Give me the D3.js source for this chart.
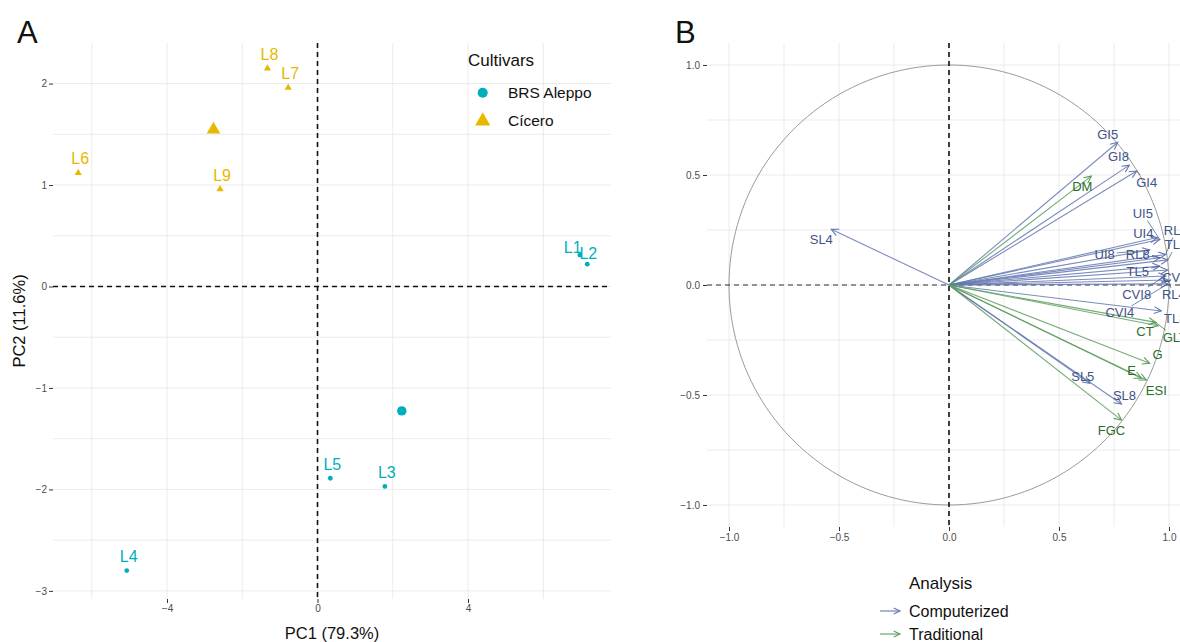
<!DOCTYPE html>
<html>
<head>
<meta charset="utf-8">
<script src="https://cdn.jsdelivr.net/npm/d3@7"></script>
<style>
  body { margin: 0; background: #fff; }
  svg { font-family: 'Liberation Sans', Arial, sans-serif; }
  .axis .tick text { fill: #4d4d4d; font-size: 10px; }
  .axis .tick line { stroke: #333; }
  .axis .domain { display: none; }
</style>
</head>
<body>
<svg id="chart" width="1180" height="642"></svg>
<script>
// ---- panel A: individuals (PCA scores)
const lineNames = ['L1', 'L2', 'L3', 'L4', 'L5', 'L6', 'L7', 'L8', 'L9'];
const pc1Scores = [6.97, 7.17, 1.79, -5.07, 0.34, -6.36, -0.78, -1.33, -2.59];
const pc2Scores = [0.31, 0.22, -1.97, -2.80, -1.89, 1.12, 1.96, 2.15, 0.96];
const lineCultivar = ['BRS Aleppo', 'BRS Aleppo', 'BRS Aleppo', 'BRS Aleppo', 'BRS Aleppo',
                      'Cícero', 'Cícero', 'Cícero', 'Cícero'];
const cultivars = ['BRS Aleppo', 'Cícero'];
const xTicksA = [-4, 0, 4];
const yTicksA = [-3, -2, -1, 0, 1, 2];

// ---- panel B: variables (correlation circle)
const compVars = ['GI5', 'GI8', 'GI4', 'SL4', 'UI5', 'UI4', 'UI8', 'RL8', 'RL5', 'TL4',
                  'TL5', 'CVI5', 'CVI8', 'RL4', 'CVI4', 'TL8', 'SL5', 'SL8'];
const compDim1 = [0.767, 0.820, 0.853, -0.535, 0.958, 0.947, 0.912, 0.958, 0.985, 0.995,
                  0.958, 0.994, 0.985, 0.995, 0.995, 0.965, 0.640, 0.784];
const compDim2 = [0.649, 0.545, 0.518, 0.253, 0.207, 0.216, 0.159, 0.124, 0.139, 0.114,
                  0.086, 0.068, 0.041, 0.023, 0.005, -0.118, -0.447, -0.541];
const tradVars = ['DM', 'CT', 'GLT', 'G', 'E', 'ESI', 'FGC'];
const tradDim1 = [0.647, 0.950, 0.940, 0.912, 0.875, 0.897, 0.784];
const tradDim2 = [0.495, -0.185, -0.170, -0.356, -0.424, -0.432, -0.614];
const analyses = ['Computerized', 'Traditional'];
const ticksB = [-1, -0.5, 0, 0.5, 1];

const cultColor = d3.scaleOrdinal().domain(cultivars).range(['#00AFBB', '#E7B800']);
const cultShape = d3.scaleOrdinal().domain(cultivars).range([d3.symbolCircle, d3.symbolTriangle]);
const lineColor = d3.scaleOrdinal().domain(analyses).range(['#6478B0', '#5E9E5E']);
const textColor = d3.scaleOrdinal().domain(analyses).range(['#3F5385', '#2A6E2A']);

// label nudges (px) for the repelled text
const nudgeA = { L1: [-7, -8], L2: [1, -11] };
const nudgeB = {
  GI5: [-10, -8], GI8: [-11, -9], GI4: [10, 11], SL4: [-10, 10], UI5: [-17, -26],
  UI4: [-14, -4], UI8: [-45, 4], RL8: [-22, -3], RL5: [10, -24], TL4: [8, -15],
  TL5: [-22, 5], CVI5: [9, 7], CVI8: [-29, 18], RL4: [6, 15], CVI4: [-48, 29],
  TL8: [14, 7], SL5: [-7, -7], SL8: [3, -9], DM: [-9, 10], CT: [-13, 6],
  GLT: [19, 15], G: [8, -9], E: [-10, -8], ESI: [10, 10], FGC: [-10, 10]
};

const svg = d3.select('#chart');
svg.append('rect').attr('width', 1180).attr('height', 642).attr('fill', '#fff');

function grid(g, x, y, xs, ys, x0, x1, y0, y1) {
  g.selectAll('.gx').data(xs).enter().append('line')
    .attr('x1', d => x(d)).attr('x2', d => x(d)).attr('y1', y0).attr('y2', y1)
    .attr('stroke', '#e6e6e6').attr('stroke-width', 0.8);
  g.selectAll('.gy').data(ys).enter().append('line')
    .attr('y1', d => y(d)).attr('y2', d => y(d)).attr('x1', x0).attr('x2', x1)
    .attr('stroke', '#e6e6e6').attr('stroke-width', 0.8);
}

/* ================= Panel A ================= */
const xA = d3.scaleLinear().domain([-7.03, 7.8]).range([53, 611]);
const yA = d3.scaleLinear().domain([-3.08, 2.40]).range([599, 43]);
const gA = svg.append('g');

grid(gA, xA, yA, d3.range(-6, 7, 2), d3.range(-3, 2.01, 0.5), 53, 611, 43, 599);

gA.append('g').attr('class', 'axis').attr('transform', 'translate(53,0)')
  .call(d3.axisLeft(yA).tickValues(yTicksA).tickFormat(d3.format('d')).tickSize(4).tickPadding(2));
gA.append('g').attr('class', 'axis').attr('transform', 'translate(0,599)')
  .call(d3.axisBottom(xA).tickValues(xTicksA).tickFormat(d3.format('d')).tickSize(4).tickPadding(2));

gA.append('line').attr('x1', xA(0)).attr('x2', xA(0)).attr('y1', 43).attr('y2', 599)
  .attr('stroke', '#111').attr('stroke-width', 1.6).attr('stroke-dasharray', '5,4');
gA.append('line').attr('y1', yA(0)).attr('y2', yA(0)).attr('x1', 53).attr('x2', 611)
  .attr('stroke', '#111').attr('stroke-width', 1.6).attr('stroke-dasharray', '5,4');

const pts = lineNames.map((n, i) => ({ name: n, x: pc1Scores[i], y: pc2Scores[i], c: lineCultivar[i] }));
const centroids = cultivars.map(c => {
  const sub = pts.filter(p => p.c === c);
  return { c: c, x: d3.mean(sub, p => p.x), y: d3.mean(sub, p => p.y) };
});

gA.selectAll('.pt').data(pts).enter().append('path')
  .attr('transform', d => 'translate(' + xA(d.x) + ',' + yA(d.y) + ')')
  .attr('d', d => d3.symbol().type(cultShape(d.c)).size(d.c === 'Cícero' ? 22 : 18)())
  .attr('fill', d => cultColor(d.c));

gA.selectAll('.ctr').data(centroids).enter().append('path')
  .attr('transform', d => 'translate(' + xA(d.x) + ',' + yA(d.y) + ')')
  .attr('d', d => d3.symbol().type(cultShape(d.c)).size(d.c === 'Cícero' ? 80 : 70)())
  .attr('fill', d => cultColor(d.c));

gA.selectAll('.lbl').data(pts).enter().append('text')
  .attr('x', d => xA(d.x) + (nudgeA[d.name] || [2, -14])[0])
  .attr('y', d => yA(d.y) + (nudgeA[d.name] || [2, -14])[1])
  .attr('dy', '0.35em').attr('text-anchor', 'middle')
  .attr('font-size', 16).attr('fill', d => cultColor(d.c))
  .text(d => d.name);

// legend A
const legA = gA.append('g');
legA.append('text').attr('x', 468).attr('y', 66).attr('font-size', 17).attr('fill', '#111').text('Cultivars');
cultivars.forEach((c, i) => {
  const yy = 92.7 + i * 28.3;
  legA.append('path').attr('transform', 'translate(482.7,' + yy + ')')
    .attr('d', d3.symbol().type(cultShape(c)).size(i === 0 ? 80 : 100)())
    .attr('fill', cultColor(c));
  legA.append('text').attr('x', 508).attr('y', yy).attr('dy', '0.35em')
    .attr('font-size', 15.5).attr('fill', '#111').text(c);
});

gA.append('text').attr('transform', 'translate(25,321) rotate(-90)')
  .attr('text-anchor', 'middle').attr('font-size', 16.5).attr('fill', '#111').text('PC2 (11.6%)');
gA.append('text').attr('x', 332).attr('y', 639).attr('text-anchor', 'middle')
  .attr('font-size', 16.5).attr('fill', '#111').text('PC1 (79.3%)');
svg.append('text').attr('x', 17).attr('y', 43).attr('font-size', 31).attr('fill', '#111').text('A');

/* ================= Panel B ================= */
const xB = d3.scaleLinear().domain([-1.1, 1.3]).range([707, 707 + 2.4 * 220]);
const yB = d3.scaleLinear().domain([-1.1, 1.1]).range([527, 43]);
const gB = svg.append('g');

grid(gB, xB, yB, d3.range(-1, 1.3, 0.25), d3.range(-1, 1.01, 0.25), 707, 1180, 43, 527);

gB.append('g').attr('class', 'axis').attr('transform', 'translate(707,0)')
  .call(d3.axisLeft(yB).tickValues(ticksB).tickFormat(d3.format('.1f')).tickSize(4).tickPadding(3));
gB.append('g').attr('class', 'axis').attr('transform', 'translate(0,527)')
  .call(d3.axisBottom(xB).tickValues(ticksB).tickFormat(d3.format('.1f')).tickSize(4).tickPadding(3));

// unit circle
const circ = d3.range(0, 361, 2).map(a => [Math.cos(a * Math.PI / 180), Math.sin(a * Math.PI / 180)]);
gB.append('path').datum(circ)
  .attr('d', d3.line().x(d => xB(d[0])).y(d => yB(d[1])))
  .attr('fill', 'none').attr('stroke', '#9a9a9a').attr('stroke-width', 1);

gB.append('line').attr('x1', xB(0)).attr('x2', xB(0)).attr('y1', 43).attr('y2', 527)
  .attr('stroke', '#111').attr('stroke-width', 1.6).attr('stroke-dasharray', '5,4');
gB.append('line').attr('y1', yB(0)).attr('y2', yB(0)).attr('x1', 707).attr('x2', 1180)
  .attr('stroke', '#333').attr('stroke-width', 1.1).attr('stroke-dasharray', '5,4');

const vars = compVars.map((n, i) => ({ name: n, x: compDim1[i], y: compDim2[i], a: 'Computerized' }))
  .concat(tradVars.map((n, i) => ({ name: n, x: tradDim1[i], y: tradDim2[i], a: 'Traditional' })));

function arrowHead(x, y, ang, len) {
  const a1 = ang + Math.PI - 0.45, a2 = ang + Math.PI + 0.45;
  return 'M' + (x + len * Math.cos(a1)) + ',' + (y + len * Math.sin(a1)) +
         'L' + x + ',' + y +
         'L' + (x + len * Math.cos(a2)) + ',' + (y + len * Math.sin(a2));
}

const arrows = gB.selectAll('.arr').data(vars).enter().append('g');
arrows.append('line')
  .attr('x1', xB(0)).attr('y1', yB(0))
  .attr('x2', d => xB(d.x)).attr('y2', d => yB(d.y))
  .attr('stroke', d => lineColor(d.a)).attr('stroke-width', 1.1).attr('stroke-opacity', 0.85);
arrows.append('path')
  .attr('d', d => {
    const ang = Math.atan2(yB(d.y) - yB(0), xB(d.x) - xB(0));
    return arrowHead(xB(d.x), yB(d.y), ang, 8);
  })
  .attr('fill', 'none').attr('stroke', d => lineColor(d.a)).attr('stroke-width', 1.1);

// labels and leader segments
const leaders = gB.append('g');
const labels = gB.append('g');
vars.forEach(d => {
  const tx = xB(d.x), ty = yB(d.y);
  const nd = nudgeB[d.name] || [0, -10];
  const lx = tx + nd[0], ly = ty + nd[1];
  const t = labels.append('text').attr('x', lx).attr('y', ly).attr('dy', '0.35em')
    .attr('text-anchor', 'middle').attr('font-size', 13)
    .attr('fill', textColor(d.a)).text(d.name);
  const hw = t.node().getComputedTextLength() / 2 + 2, hh = 7;
  const dx = tx - lx, dy = ty - ly;
  const len = Math.hypot(dx, dy);
  const s = Math.min(dx ? hw / Math.abs(dx) : 1e9, dy ? hh / Math.abs(dy) : 1e9);
  if (s < 1 && (1 - s) * len > 5) {
    leaders.append('line')
      .attr('x1', lx + s * dx).attr('y1', ly + s * dy).attr('x2', tx).attr('y2', ty)
      .attr('stroke', textColor(d.a)).attr('stroke-width', 0.7);
  }
});

svg.append('text').attr('x', 675).attr('y', 43).attr('font-size', 31).attr('fill', '#111').text('B');

// legend B
const legB = svg.append('g');
legB.append('text').attr('x', 909).attr('y', 589).attr('font-size', 17).attr('fill', '#111').text('Analysis');
analyses.forEach((a, i) => {
  const yy = 611 + i * 23;
  legB.append('line').attr('x1', 880).attr('x2', 900).attr('y1', yy).attr('y2', yy)
    .attr('stroke', lineColor(a)).attr('stroke-width', 1.1);
  legB.append('path').attr('d', arrowHead(900, yy, 0, 7))
    .attr('fill', 'none').attr('stroke', lineColor(a)).attr('stroke-width', 1.1);
  legB.append('text').attr('x', 909).attr('y', yy).attr('dy', '0.35em')
    .attr('font-size', 16).attr('fill', '#111').text(a);
});
</script>
</body>
</html>
